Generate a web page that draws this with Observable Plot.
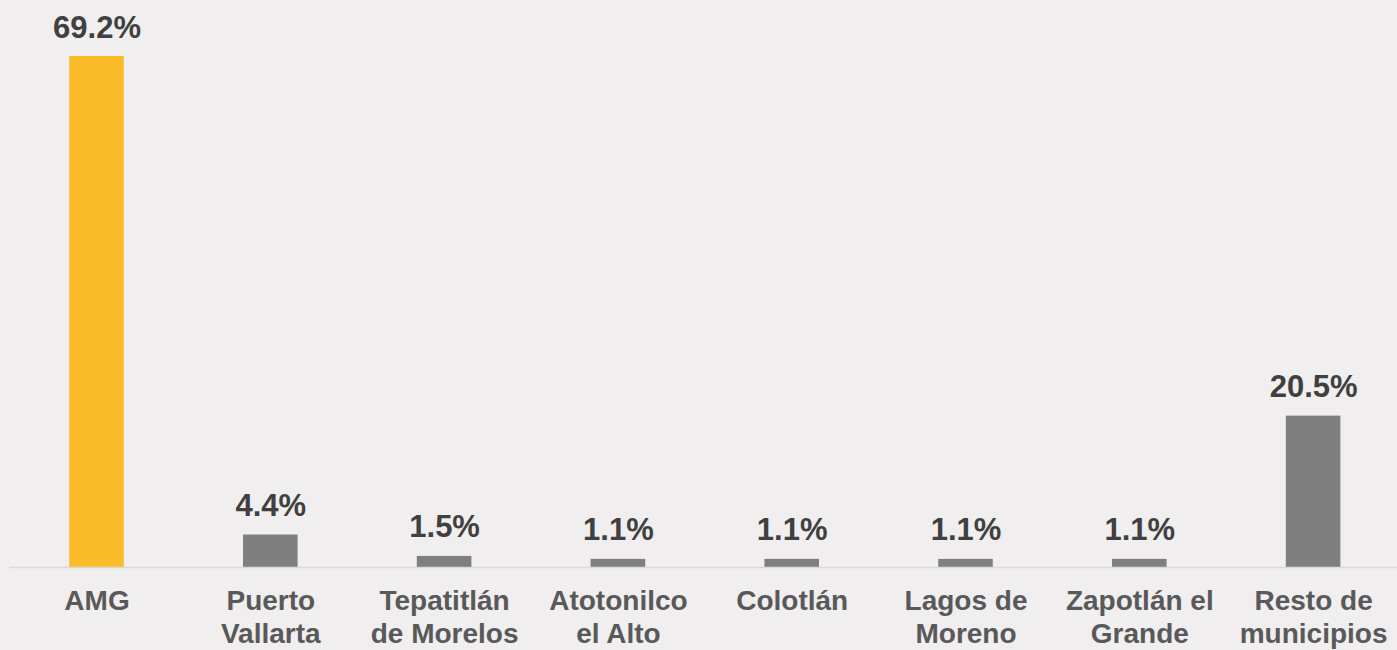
<!DOCTYPE html>
<html><head><meta charset="utf-8">
<script src="https://cdn.jsdelivr.net/npm/d3@7"></script>
<script src="https://cdn.jsdelivr.net/npm/@observablehq/plot@0.6"></script>
<style>html,body{margin:0;padding:0;background:#f0eeef;} #chart svg{display:block}</style>
</head><body><div id="chart"></div>
<script>
const categories = ["AMG", "Puerto Vallarta", "Tepatitlán de Morelos", "Atotonilco el Alto", "Colotlán", "Lagos de Moreno", "Zapotlán el Grande", "Resto de municipios"];
const tickLabels = ["AMG", "Puerto\nVallarta", "Tepatitlán\nde Morelos", "Atotonilco\nel Alto", "Colotlán", "Lagos de\nMoreno", "Zapotlán el\nGrande", "Resto de\nmunicipios"];
const values = [69.2, 4.4, 1.5, 1.1, 1.1, 1.1, 1.1, 20.5];
const highlighted = ["AMG"];
const highlightColor = "#fbbc29";
const baseColor = "#7f7f7f";

const data = categories.map((c, i) => ({category: c, label: tickLabels[i], value: values[i]}));

const chart = Plot.plot({
  width: 1397, height: 650,
  marginLeft: 9, marginRight: 0, marginTop: 0, marginBottom: 0,
  style: {background: "#f0eeef", fontFamily: "'Liberation Sans', Arial, sans-serif"},
  x: {domain: categories, range: [9.6, 1400], paddingInner: 0.686, paddingOuter: 0.343, round: false, axis: null},
  y: {domain: [0, 69.2], range: [567, 56], axis: null},
  marks: [
    Plot.barY(data, {x: "category", y: "value", fill: d => highlighted.includes(d.category) ? highlightColor : baseColor}),
    Plot.ruleY([0], {stroke: "#d9d9d9", strokeWidth: 1.5}),
    Plot.text(data, {x: "category", y: "value", text: d => d.value.toFixed(1) + "%", lineAnchor: "bottom", dy: -19, fontSize: 31, fontWeight: "bold", fill: "#404040"}),
    Plot.text(data, {x: "category", y: () => 0, text: "label", lineAnchor: "top", dy: 20, fontSize: 28, fontWeight: "bold", fill: "#595959", lineHeight: 1.15})
  ]
});
document.getElementById("chart").append(chart);
</script>
</body></html>
